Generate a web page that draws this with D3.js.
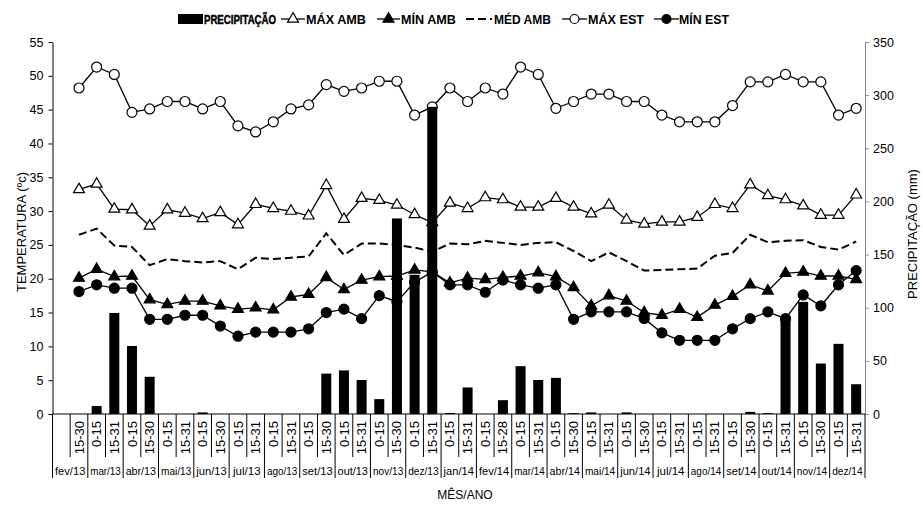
<!DOCTYPE html>
<html>
<head>
<meta charset="utf-8">
<script src="https://cdn.jsdelivr.net/npm/d3@7"></script>
<style>
  body { margin: 0; background: #fff; }
  svg { display: block; }
  text { font-family: "Liberation Sans", Arial, sans-serif; fill: #000; }
  .leg { font-family: "Liberation Sans Narrow", "Arial Narrow", "Liberation Sans", Arial, sans-serif; font-weight: bold; font-size: 13px; }
</style>
</head>
<body>
<svg id="chart" width="923" height="505"></svg>
<script>
// Months on the lower category row (each spans two fortnights)
const months = ["fev/13","mar/13","abr/13","mai/13","jun/13","jul/13","ago/13","set/13","out/13","nov/13","dez/13",
                "jan/14","fev/14","mar/14","abr/14","mai/14","jun/14","jul/14","ago/14","set/14","out/14","nov/14","dez/14"];

// Fortnight labels (first slot of fev/13 is empty)
const periods = ["", "15-30",
  "0-15","15-31", "0-15","15-30", "0-15","15-31", "0-15","15-30", "0-15","15-31", "0-15","15-31",
  "0-15","15-30", "0-15","15-31", "0-15","15-30", "0-15","15-31",
  "0-15","15-31", "0-15","15-28", "0-15","15-31", "0-15","15-30", "0-15","15-31", "0-15","15-30",
  "0-15","15-31", "0-15","15-31", "0-15","15-30", "0-15","15-31", "0-15","15-30", "0-15","15-31"];

// Rainfall per fortnight (mm)
const precipitacao = [null, 0, 7.5, 95, 64, 35, 0, 0, 1.5, 0, 0, 0, 0, 0, 0, 38, 41, 32, 14, 184, 131, 289,
  1, 25, 0, 13, 45, 32, 34, 0.8, 1.5, 0, 1.5, 0, 0, 0, 0, 0, 0, 2, 0.8, 91.5, 105.5, 47.5, 66, 28];

// Temperatures (°C)
const maxAmb = [null, 33.2, 34.0, 30.3, 30.2, 27.8, 30.2, 29.7, 28.9, 29.8, 28.0, 31.0, 30.4, 30.0, 29.3, 33.8,
  28.8, 31.9, 31.6, 30.9, 29.5, 28.3, 31.2, 30.4, 32.0, 31.7, 30.6, 30.6, 31.9, 30.6, 29.6, 30.9,
  28.7, 28.1, 28.4, 28.4, 29.1, 31.0, 30.4, 33.9, 32.3, 31.7, 30.8, 29.4, 29.4, 32.4];
const minAmb = [null, 20.1, 21.4, 20.3, 20.4, 16.9, 16.2, 16.7, 16.7, 16.0, 15.5, 15.7, 15.4, 17.3, 17.7, 20.2,
  18.4, 19.8, 20.3, 20.4, 21.3, 21.0, 19.4, 20.1, 19.9, 20.2, 20.4, 20.9, 20.3, 18.7, 16.0, 17.5,
  16.7, 15.0, 14.6, 15.5, 14.3, 16.1, 17.4, 19.1, 18.2, 20.8, 21.0, 20.4, 20.4, 19.9];
const medAmb = [null, 26.5, 27.4, 24.9, 24.7, 22.0, 22.9, 22.6, 22.4, 22.6, 21.4, 23.1, 22.9, 23.1, 23.3, 26.7,
  23.5, 25.2, 25.2, 25.0, 24.6, 24.0, 25.2, 25.1, 25.6, 25.3, 25.0, 25.3, 25.4, 24.1, 22.6, 23.9,
  22.6, 21.2, 21.3, 21.4, 21.5, 23.4, 23.8, 26.5, 25.4, 25.6, 25.7, 24.7, 24.3, 25.5];
const maxEst = [null, 48.2, 51.3, 50.2, 44.6, 45.1, 46.2, 46.2, 45.1, 46.2, 42.6, 41.7, 43.2, 45.1, 45.7, 48.7,
  47.7, 48.2, 49.2, 49.2, 44.2, 45.4, 48.2, 46.2, 48.2, 47.3, 51.3, 50.2, 45.2, 46.2, 47.3, 47.3,
  46.2, 46.2, 44.2, 43.2, 43.2, 43.2, 45.6, 49.1, 49.1, 50.2, 49.1, 49.1, 44.2, 45.2];
const minEst = [null, 18.1, 19.1, 18.6, 18.6, 14.0, 14.0, 14.6, 14.6, 13.0, 11.5, 12.1, 12.1, 12.1, 12.6, 15.0,
  15.5, 14.1, 17.5, 16.6, 19.5, 21.0, 19.1, 19.1, 18.0, 19.8, 19.1, 18.6, 19.1, 14.0, 15.1, 15.1,
  15.1, 14.1, 12.0, 10.9, 10.9, 10.9, 12.6, 14.1, 15.1, 14.1, 17.6, 16.0, 19.1, 21.2];

const tempTicks = d3.range(0, 56, 5);
const precTicks = d3.range(0, 351, 50);

const svg = d3.select("#chart");
const plotL = 52.5, plotR = 865, plotT = 42, plotB = 414;

const x = d3.scaleBand().domain(d3.range(periods.length)).range([plotL, plotR]).padding(0);
const cx = i => x(i) + x.bandwidth() / 2;
const yT = d3.scaleLinear().domain([0, 55]).range([plotB, plotT]);
const yP = d3.scaleLinear().domain([0, 350]).range([plotB, plotT]);

// Axes
const axL = svg.append("g").attr("transform", `translate(${plotL},0)`)
  .call(d3.axisLeft(yT).tickValues(tempTicks).tickSize(4).tickPadding(5).tickSizeOuter(0));
axL.selectAll("text").style("font-size", "12.5px").style("font-family", "Liberation Sans, Arial, sans-serif");
axL.selectAll("line,path").attr("stroke", "#000");

const axR = svg.append("g").attr("transform", `translate(${plotR},0)`)
  .call(d3.axisRight(yP).tickValues(precTicks).tickSize(4).tickPadding(4).tickSizeOuter(0));
axR.selectAll("text").style("font-size", "12.5px").style("font-family", "Liberation Sans, Arial, sans-serif");
axR.selectAll("line,path").attr("stroke", "#8c8c8c");

// Category axis: baseline, separators and labels
svg.append("line").attr("x1", plotL).attr("x2", plotR).attr("y1", plotB).attr("y2", plotB)
  .attr("stroke", "#000");
d3.range(periods.length + 1).forEach(b => {
  const bx = b < periods.length ? x(b) : plotR;
  svg.append("line").attr("x1", bx).attr("x2", bx).attr("y1", plotB)
    .attr("y2", b % 2 === 0 ? 478 : 457).attr("stroke", "#000").attr("stroke-width", 1);
});
svg.append("g").selectAll("text").data(periods).join("text")
  .attr("transform", (d, i) => `translate(${cx(i)},421) rotate(-90)`)
  .attr("dy", "0.35em").attr("text-anchor", "end").style("font-size", "13px")
  .text(d => d);
const monthText = svg.append("g").selectAll("text").data(months).join("text")
  .attr("x", (d, i) => x(2 * i) + x.bandwidth()).attr("y", 475)
  .attr("text-anchor", "middle").style("font-size", "11.5px")
  .text(d => d);
// keep each month name inside its two-fortnight cell
monthText.each(function () {
  const w = this.getComputedTextLength();
  const maxW = 2 * x.bandwidth() - 5;
  if (w > maxW) d3.select(this).attr("textLength", maxW).attr("lengthAdjust", "spacingAndGlyphs");
});

// Axis titles
svg.append("text").attr("transform", "translate(26,232) rotate(-90)")
  .attr("text-anchor", "middle").style("font-size", "13px").text("TEMPERATURA (ºc)");
svg.append("text").attr("transform", "translate(917,234) rotate(-90)")
  .attr("text-anchor", "middle").style("font-size", "13px").text("PRECIPITAÇÃO (mm)");
svg.append("text").attr("x", 465).attr("y", 499).attr("text-anchor", "middle")
  .style("font-size", "12px").text("MÊS/ANO");

// Symbols
const triUp = d3.symbol().type(d3.symbolTriangle).size(52);
function drawSeries(values, opts) {
  const line = d3.line().defined(d => d != null).x((d, i) => cx(i)).y(d => yT(d));
  svg.append("path").datum(values).attr("d", line).attr("fill", "none")
    .attr("stroke", "#000").attr("stroke-width", opts.width || 1.3)
    .attr("stroke-dasharray", opts.dash || null);
  if (!opts.marker) return;
  const pts = values.map((v, i) => ({ v, i })).filter(p => p.v != null);
  const g = svg.append("g");
  if (opts.marker === "circle") {
    g.selectAll("circle").data(pts).join("circle")
      .attr("cx", p => cx(p.i)).attr("cy", p => yT(p.v)).attr("r", 5)
      .attr("fill", opts.fill).attr("stroke", "#000").attr("stroke-width", 1.2);
  } else {
    g.selectAll("path").data(pts).join("path")
      .attr("d", triUp).attr("transform", p => `translate(${cx(p.i)},${yT(p.v)})`)
      .attr("fill", opts.fill).attr("stroke", "#000").attr("stroke-width", 1.2);
  }
}
drawSeries(maxEst, { marker: "circle", fill: "#fff" });
drawSeries(maxAmb, { marker: "tri", fill: "#fff" });
drawSeries(medAmb, { width: 2, dash: "8,4" });
drawSeries(minAmb, { marker: "tri", fill: "#000" });
drawSeries(minEst, { marker: "circle", fill: "#000" });

// Rainfall bars
const barW = 10;
svg.append("g").selectAll("rect")
  .data(precipitacao.map((v, i) => ({ v, i })).filter(p => p.v != null && p.v > 0))
  .join("rect")
  .attr("x", p => cx(p.i) - barW / 2).attr("width", barW)
  .attr("y", p => yP(p.v)).attr("height", p => plotB - yP(p.v))
  .attr("fill", "#000");

// Legend
const legY = 19;
const legend = svg.append("g");
legend.append("rect").attr("x", 178).attr("y", legY - 5).attr("width", 25).attr("height", 10).attr("fill", "#000");
const legItems = [
  { label: "PRECIPITAÇÃO", tx: 204, w: 72, heavy: true },
  { label: "MÁX AMB", lx: [281, 305], marker: "tri", fill: "#fff", tx: 306, w: 60 },
  { label: "MÍN AMB", lx: [377, 400], marker: "tri", fill: "#000", tx: 401, w: 55 },
  { label: "MÉD AMB", lx: [466, 492], dash: true, tx: 494, w: 57 },
  { label: "MÁX EST", lx: [562, 587], marker: "circle", fill: "#fff", tx: 588, w: 56 },
  { label: "MÍN EST", lx: [654, 679], marker: "circle", fill: "#000", tx: 679, w: 50 }
];
legItems.forEach(it => {
  if (it.lx) {
    legend.append("line").attr("x1", it.lx[0]).attr("x2", it.lx[1]).attr("y1", legY).attr("y2", legY)
      .attr("stroke", "#000").attr("stroke-width", it.dash ? 2 : 1.3)
      .attr("stroke-dasharray", it.dash ? "8,4" : null);
    const mx = (it.lx[0] + it.lx[1]) / 2;
    if (it.marker === "circle") {
      legend.append("circle").attr("cx", mx).attr("cy", legY).attr("r", 4.5)
        .attr("fill", it.fill).attr("stroke", "#000").attr("stroke-width", 1.2);
    } else if (it.marker === "tri") {
      legend.append("path").attr("d", triUp).attr("transform", `translate(${mx},${legY})`)
        .attr("fill", it.fill).attr("stroke", "#000").attr("stroke-width", 1.2);
    }
  }
  legend.append("text").attr("class", "leg").attr("x", it.tx).attr("y", legY + 4.5)
    .attr("textLength", it.w).attr("lengthAdjust", "spacingAndGlyphs")
    .attr("stroke", it.heavy ? "#000" : null).attr("stroke-width", it.heavy ? 0.5 : null)
    .text(it.label);
});
</script>
</body>
</html>
